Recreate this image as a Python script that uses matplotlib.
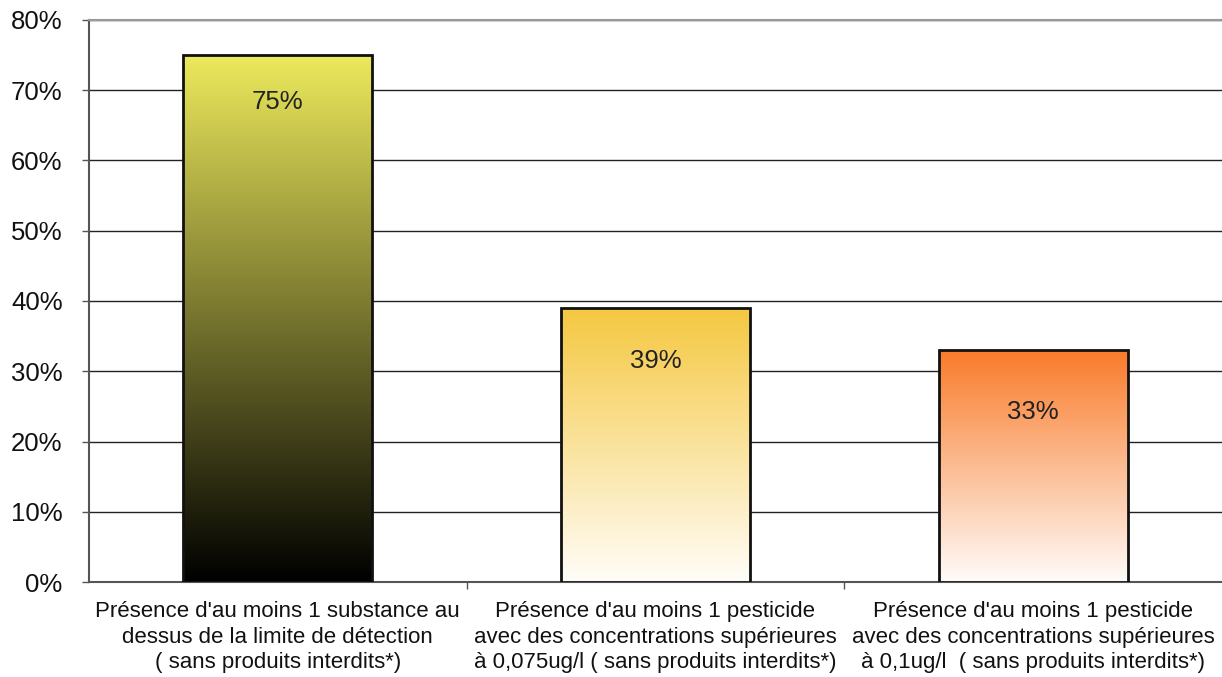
import matplotlib
matplotlib.use("Agg")
import matplotlib.pyplot as plt
import numpy as np
from matplotlib.colors import LinearSegmentedColormap

plt.rcParams['font.family'] = ['Liberation Sans', 'DejaVu Sans']

categories = [
    "Présence d'au moins 1 substance au\ndessus de la limite de détection\n( sans produits interdits*)",
    "Présence d'au moins 1 pesticide\navec des concentrations supérieures\nà 0,075ug/l ( sans produits interdits*)",
    "Présence d'au moins 1 pesticide\navec des concentrations supérieures\nà 0,1ug/l  ( sans produits interdits*)",
]
values = [75, 39, 33]
value_labels = ["75%", "39%", "33%"]
yticks = [0, 10, 20, 30, 40, 50, 60, 70, 80]
ytick_labels = ["0%", "10%", "20%", "30%", "40%", "50%", "60%", "70%", "80%"]

top_colors = ["#ece95c", "#f5c841", "#f97b2a"]
bottom_colors = ["#000000", "#fffdf8", "#fffcfa"]
label_offsets_px = [47, 53, 62]

fig = plt.figure(figsize=(12.22, 6.77), dpi=100)
ax = fig.add_axes([0.0728, 0.1403, 0.9272, 0.8302])

x = np.arange(len(values))
bars = ax.bar(x, values, width=0.5, facecolor='none', edgecolor='#111111', linewidth=2.0, zorder=4)

grad = np.linspace(0, 1, 256).reshape(-1, 1)
for b, tc, bc in zip(bars, top_colors, bottom_colors):
    cmap = LinearSegmentedColormap.from_list('g', [bc, tc])
    x0, y0 = b.get_x(), b.get_y()
    w, h = b.get_width(), b.get_height()
    im = ax.imshow(grad, cmap=cmap, origin='lower', aspect='auto',
                   extent=[x0, x0 + w, y0, y0 + h], zorder=3)
    im.set_clip_path(b)

for xi, v, lab, off in zip(x, values, value_labels, label_offsets_px):
    ax.annotate(lab, xy=(xi, v), xytext=(0, -off * 72 / 100), textcoords='offset points',
                ha='center', va='center', fontsize=18.5, color='#222222', zorder=5)

ax.set_xlim(-0.5, 2.5)
ax.set_ylim(0, 80)
ax.set_yticks(yticks)
ax.set_yticklabels(ytick_labels, fontsize=18.5, color='#111111')
ax.yaxis.grid(True, color='#222222', linewidth=1.0, zorder=1)
ax.set_axisbelow(True)

ax.set_xticks([0.5, 1.5], minor=False)
ax.set_xticklabels([])
ax.tick_params(axis='x', which='major', length=5, color='#555555', width=1)
ax.set_xticks(x, minor=True)
ax.set_xticklabels(categories, minor=True, fontsize=16, color='#111111', linespacing=1.3)
ax.tick_params(axis='x', which='minor', length=0, pad=13.5)
ax.tick_params(axis='y', length=5, color='#555555', width=1, pad=14)

ax.spines['top'].set_color('#999999')
ax.spines['top'].set_linewidth(1.5)
ax.spines['right'].set_visible(False)
ax.spines['left'].set_color('#555555')
ax.spines['left'].set_linewidth(1.5)
ax.spines['bottom'].set_color('#555555')
ax.spines['bottom'].set_linewidth(1.5)

fig.savefig("out.png", dpi=100)
